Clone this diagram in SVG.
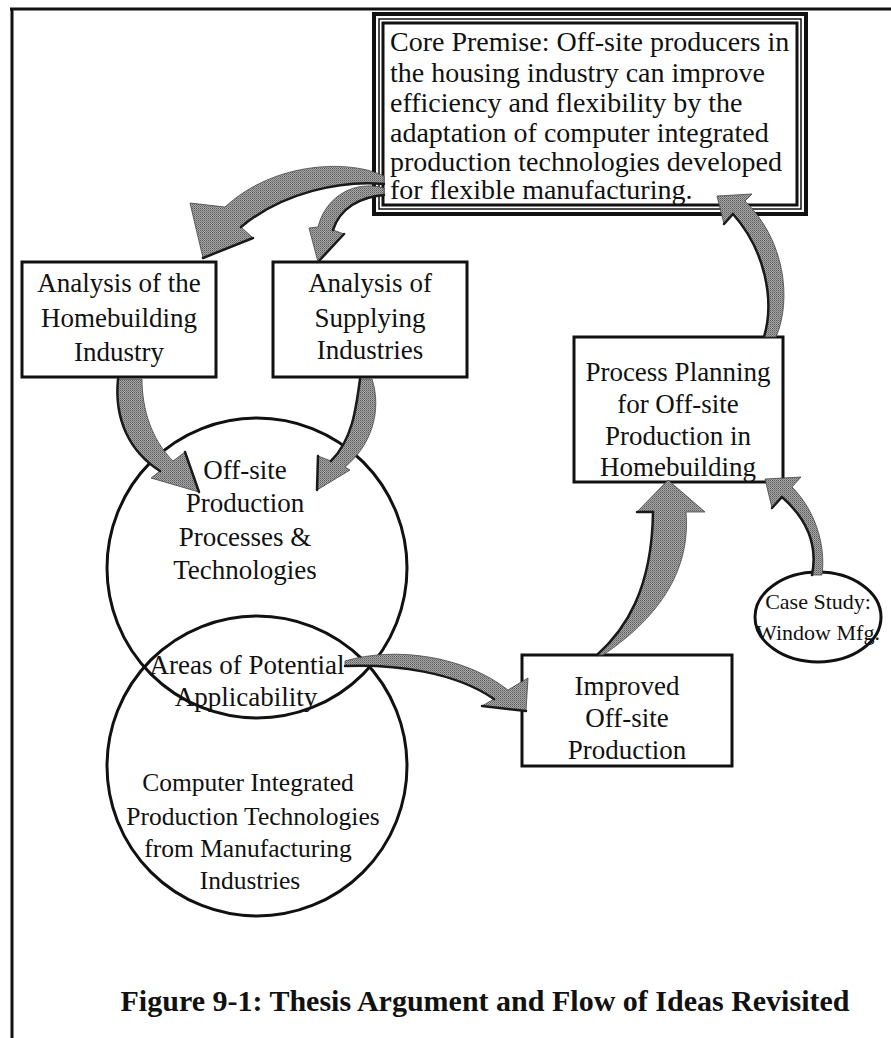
<svg xmlns="http://www.w3.org/2000/svg" width="891" height="1038" viewBox="0 0 891 1038">
<defs>
<pattern id="ht" width="2" height="2" patternUnits="userSpaceOnUse">
<rect width="2" height="2" fill="#a6a6a6"/><rect width="1" height="1" fill="#5c5c5c"/><rect x="1" y="1" width="1" height="1" fill="#7c7c7c"/>
</pattern>
</defs>
<style>
.box{fill:#fff;stroke:#111;stroke-width:3}
.circ{fill:none;stroke:#111;stroke-width:3}
.t{font-family:"Liberation Serif","Times New Roman",serif;font-size:27px;fill:#111;text-anchor:middle}
.tc{font-family:"Liberation Serif","Times New Roman",serif;font-size:25.5px;fill:#111;text-anchor:middle}
.tl{font-family:"Liberation Serif","Times New Roman",serif;font-size:28px;fill:#111}
.arr{fill:url(#ht);stroke:#444;stroke-width:0.8}
.sh{fill:none;stroke:#1a1a1a;stroke-width:2.5;stroke-linecap:round}
.title{font-family:"Liberation Serif","Times New Roman",serif;font-size:30px;font-weight:bold;fill:#111;text-anchor:middle}
</style>
<rect width="891" height="1038" fill="#fff"/>
<g id="frame">
<path d="M10,9 H891 M12,9 V1038" fill="none" stroke="#111" stroke-width="3"/>
</g>
<g id="core">
<rect x="374" y="14" width="432" height="200" fill="#fff" stroke="#111" stroke-width="4"/>
<rect x="379" y="19" width="422" height="190" fill="none" stroke="#111" stroke-width="1.5"/>
<rect x="383" y="23" width="414" height="182" fill="none" stroke="#111" stroke-width="3"/>
<text class="tl" x="390" y="51">Core Premise: Off-site producers in</text>
<text class="tl" x="390" y="82">the housing industry can improve</text>
<text class="tl" x="390" y="112">efficiency and flexibility by the</text>
<text class="tl" x="390" y="142">adaptation of computer integrated</text>
<text class="tl" x="390" y="171">production technologies developed</text>
<text class="tl" x="390" y="199">for flexible manufacturing.</text>
</g>
<g id="homebuilding">
<rect class="box" x="22" y="262" width="194" height="115"/>
<text class="t" x="119" y="292">Analysis of the</text>
<text class="t" x="119" y="327">Homebuilding</text>
<text class="t" x="119" y="361">Industry</text>
</g>
<g id="supplying">
<rect class="box" x="273" y="262" width="194" height="115"/>
<text class="t" x="370" y="292">Analysis of</text>
<text class="t" x="370" y="327">Supplying</text>
<text class="t" x="370" y="359">Industries</text>
</g>
<g id="offsite">
<circle class="circ" cx="257" cy="568" r="150"/>
<text class="t" x="245" y="479">Off-site</text>
<text class="t" x="245" y="512">Production</text>
<text class="t" x="245" y="546">Processes &amp;</text>
<text class="t" x="245" y="579">Technologies</text>
</g>
<g id="cim">
<circle class="circ" cx="257" cy="766" r="150"/>
<text class="tc" x="248" y="791">Computer Integrated</text>
<text class="tc" x="253" y="825">Production Technologies</text>
<text class="tc" x="248" y="857">from Manufacturing</text>
<text class="tc" x="250" y="889">Industries</text>
</g>
<g id="areas">
<text class="t" x="247" y="674">Areas of Potential</text>
<text class="t" x="246" y="706">Applicability</text>
</g>
<g id="process">
<rect class="box" x="574" y="337" width="209" height="145"/>
<text class="t" x="678" y="381">Process Planning</text>
<text class="t" x="678" y="413">for Off-site</text>
<text class="t" x="678" y="445">Production in</text>
<text class="t" x="678" y="476">Homebuilding</text>
</g>
<g id="improved">
<rect class="box" x="522" y="655" width="210" height="111"/>
<text class="t" x="627" y="695">Improved</text>
<text class="t" x="627" y="727">Off-site</text>
<text class="t" x="627" y="759">Production</text>
</g>
<g id="casestudy">
<ellipse cx="818" cy="617" rx="63" ry="45" fill="#fff" stroke="#111" stroke-width="3"/>
<text class="t" x="818" y="609" style="font-size:22px">Case Study:</text>
<text class="t" x="818" y="640" style="font-size:22px">Window Mfg.</text>
</g>
<g id="connectors">
<path class="arr" d="M384,176 C352,160 276,160 225,207 L190,203 L203,258 L253,238 L241,227 C283,192 342,180 384,184 Z"/>
<path class="sh" d="M203,258 L253,238 M241,227 C283,192 342,180 384,184"/>
<path class="arr" d="M384,188 C356,180 326,195 318,227 L309,228 L318,262 L344,234 L333,230 C340,208 360,197 384,195 Z"/>
<path class="sh" d="M318,262 L344,234 M333,230 C340,208 360,197 384,195"/>
<path class="arr" d="M118,379 C114,420 130,452 160,471 L151,478 L199,492 L185,452 L173,461 C152,440 142,410 142,379 Z"/>
<path class="sh" d="M199,492 L185,452 M118,379 C114,420 130,452 160,471"/>
<path class="arr" d="M360,379 C356,410 352,440 331,461 L318,456 L317,490 L350,470 L345,467 C372,445 382,410 372,379 Z"/>
<path class="sh" d="M318,456 L317,490 M360,379 C356,410 352,440 331,461"/>
<path class="arr" d="M345,661 C395,646 465,656 508,690 L528,678 L526,711 L482,706 L494,699 C455,672 395,664 345,666 Z"/>
<path class="sh" d="M482,706 L526,711 M494,699 C455,672 395,664 345,666"/>
<path class="arr" d="M597,655 C625,630 652,590 653,512 L637,512 L668,480 L705,512 L686,512 C690,560 670,610 603,655 Z"/>
<path class="sh" d="M597,655 C625,630 652,590 653,512 L637,512"/>
<path class="arr" d="M812,575 C818,545 808,520 782,497 L772,508 L765,479 L801,477 L792,487 C815,510 826,545 822,575 Z"/>
<path class="sh" d="M812,575 C818,545 808,520 782,497 L772,508"/>
<path class="arr" d="M764,337 C775,300 765,250 733,214 L724,224 L717,196 L752,194 L745,201 C785,240 792,300 776,337 Z"/>
<path class="sh" d="M764,337 C775,300 765,250 733,214 L724,224"/>
</g>
<text class="title" x="485" y="1011">Figure 9-1: Thesis Argument and Flow of Ideas Revisited</text>
</svg>
